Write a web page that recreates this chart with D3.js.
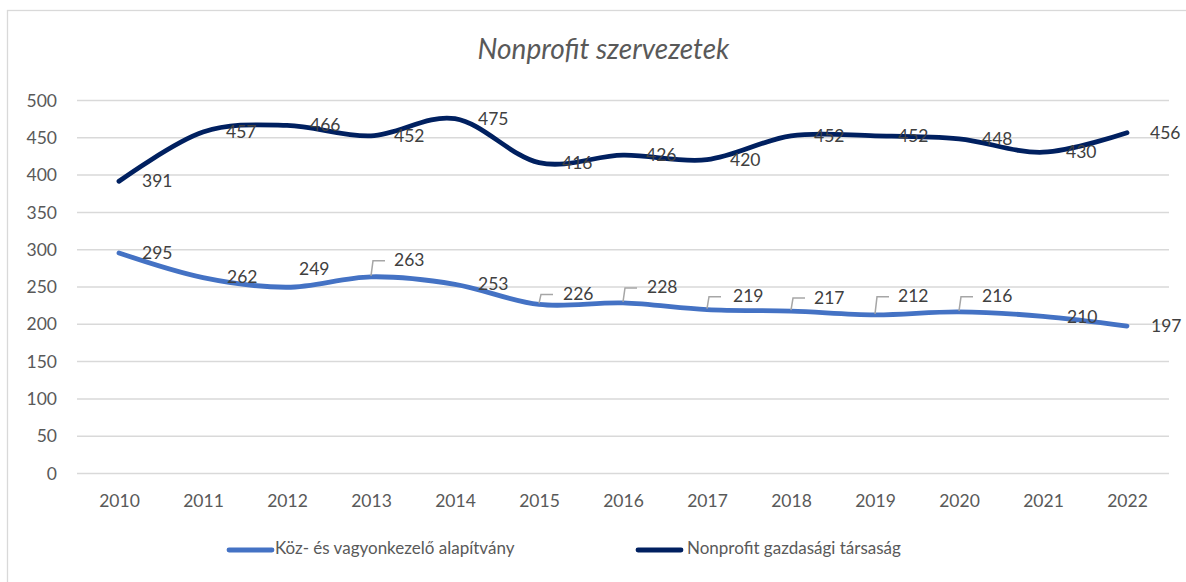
<!DOCTYPE html>
<html>
<head>
<meta charset="utf-8">
<script src="https://cdn.jsdelivr.net/npm/d3@7"></script>
<style>
  html, body { margin: 0; padding: 0; background: #fff; }
  svg { display: block; font-family: Lato, "Open Sans", sans-serif; }
</style>
</head>
<body>
<svg id="chart" width="1186" height="582"></svg>
<script>
// ---- data ----
const years = ["2010","2011","2012","2013","2014","2015","2016","2017","2018","2019","2020","2021","2022"];
const kozVagyon = [295, 262, 249, 263, 253, 226, 228, 219, 217, 212, 216, 210, 197];
const nonprofitGt = [391, 457, 466, 452, 475, 416, 426, 420, 452, 452, 448, 430, 456];
const seriesNames = ["Köz- és vagyonkezelő alapítvány", "Nonprofit gazdasági társaság"];
const yTicks = [0, 50, 100, 150, 200, 250, 300, 350, 400, 450, 500];
const titleText = "Nonprofit szervezetek";

// ---- label placement (styling, not data): [dx, dy, hasLeader] ----
const kozLabelShift = [
  [23, 2, false], [24, 1.5, false], [12, -17, false], [23, -15, true], [23, 1.5, false],
  [24, -9, true], [24, -14, true], [26, -12, true], [23, -12, true], [23, -17, true],
  [23, -14, true], [24, 2, false], [24, 2, false]
];

const W = 1186, H = 582;
const margin = { left: 77, right: 17, top: 100, bottom: 109 };
const colors = ["#4472C4", "#002060"];
const svg = d3.select("#chart");

// chart frame (only top & left edges visible)
svg.append("rect").attr("x", 7.5).attr("y", 10.5).attr("width", W + 20).attr("height", H + 20)
  .attr("fill", "none").attr("stroke", "#d9d9d9").attr("stroke-width", 1.3);

const x = d3.scalePoint().domain(years).range([margin.left, W - margin.right]).padding(0.5);
const y = d3.scaleLinear().domain([0, 500]).range([H - margin.bottom, margin.top]);

// gridlines
const yAxis = d3.axisLeft(y).tickValues(yTicks).tickSize(-(W - margin.left - margin.right)).tickPadding(20);
const gy = svg.append("g").attr("transform", `translate(${margin.left},0)`).call(yAxis);
gy.select(".domain").remove();
gy.selectAll(".tick line").attr("stroke", "#d9d9d9").attr("stroke-width", 1.5);
gy.selectAll(".tick text").attr("fill", "#595959").attr("font-size", 17.5).attr("dy", "0.35em")
  .attr("font-family", "Lato, sans-serif");

// x axis labels
const xAxis = d3.axisBottom(x).tickSize(0).tickPadding(22);
const gx = svg.append("g").attr("transform", `translate(0,${H - margin.bottom})`).call(xAxis);
gx.select(".domain").remove();
gx.selectAll(".tick text").attr("fill", "#595959").attr("font-size", 17.5).attr("font-family", "Lato, sans-serif");

// title
svg.append("text").attr("x", 603.5).attr("y", 52)
  .attr("text-anchor", "middle").attr("dominant-baseline", "middle")
  .attr("font-style", "italic").attr("font-size", 28).attr("fill", "#595959").text(titleText);

// lines
const line = d3.line().x((d, i) => x(years[i])).y(d => y(d)).curve(d3.curveCatmullRom.alpha(0));
const allSeries = [kozVagyon, nonprofitGt];
allSeries.forEach((vals, s) => {
  svg.append("path").datum(vals).attr("d", line).attr("fill", "none")
    .attr("stroke", colors[s]).attr("stroke-width", 4.8).attr("stroke-linecap", "round").attr("stroke-linejoin", "round");
});

// labels
const labelG = svg.append("g").attr("font-size", 17.5).attr("fill", "#404040");
allSeries.forEach((vals, s) => {
  vals.forEach((v, i) => {
    const px = x(years[i]), py = y(v);
    const sh = s === 0 ? kozLabelShift[i] : [23, 1.5, false];
    const ly = py + sh[1];
    if (sh[2]) {
      svg.append("path")
        .attr("d", `M${px},${py - 1}L${px + 2},${ly - 1}L${px + 14},${ly - 1}`)
        .attr("fill", "none").attr("stroke", "#a6a6a6").attr("stroke-width", 1.5);
    }
    labelG.append("text").attr("x", px + sh[0]).attr("y", ly)
      .attr("dominant-baseline", "middle").text(v);
  });
});
labelG.raise();

// legend
const legendItems = [{ x: 227, tx: 275 }, { x: 636, tx: 687 }];
legendItems.forEach((it, s) => {
  svg.append("line").attr("x1", it.x + 2).attr("x2", it.x + 45).attr("y1", 550).attr("y2", 550)
    .attr("stroke", colors[s]).attr("stroke-width", 4.8).attr("stroke-linecap", "round");
  svg.append("text").attr("x", it.tx).attr("y", 550).attr("dominant-baseline", "middle")
    .attr("font-size", 17).attr("fill", "#595959").text(seriesNames[s]);
});
</script>
</body>
</html>
